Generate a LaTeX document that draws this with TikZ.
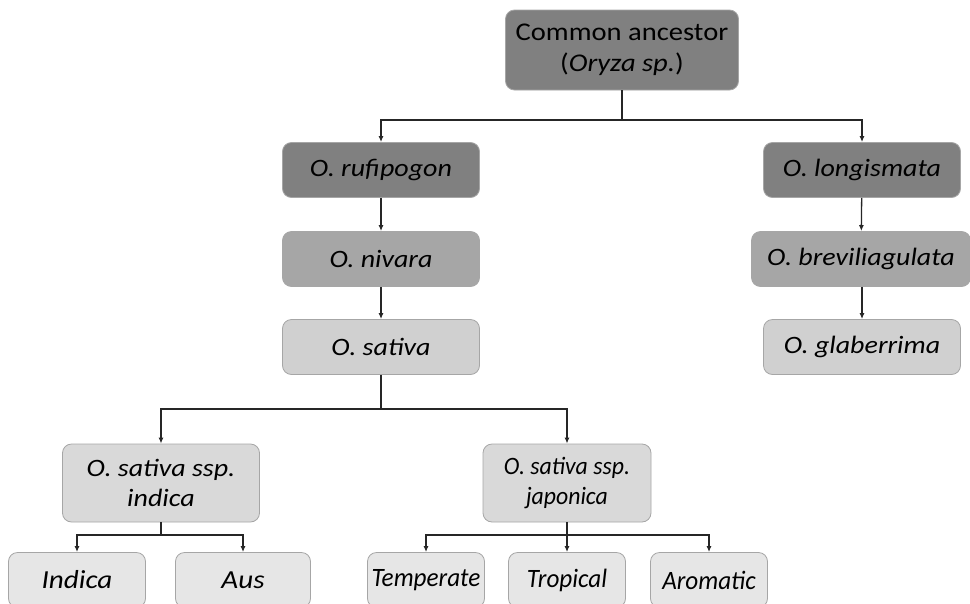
\documentclass[tikz,border=0pt]{standalone}
\usepackage{fontspec}
\setmainfont[FakeStretch=1.12]{Carlito}
\newfontfamily\narrowfont[FakeStretch=0.95]{Carlito}
\usetikzlibrary{arrows.meta}
\definecolor{darkgrey}{HTML}{808080}
\definecolor{midgrey}{HTML}{A6A6A6}
\definecolor{lightgrey}{HTML}{D0D0D0}
\definecolor{palegrey}{HTML}{D9D9D9}
\definecolor{faintgrey}{HTML}{E6E6E6}
\tikzset{
  box/.style={draw=black!35, line width=0.8pt, rounded corners=9pt,
    minimum height=55pt, inner sep=3pt, align=center,
    font=\fontsize{25}{30}\selectfont\itshape},
  link/.style={line width=1.3pt, draw=black!85},
  arr/.style={link, -{Latex[length=6pt,width=5pt]}},
}
\begin{document}
\begin{tikzpicture}[x=1pt,y=-1pt]
  \useasboundingbox (0,0) rectangle (970,603);
  \clip (0,0) rectangle (970,603);
  % ancestor and the two wild lines
  \node[box,fill=darkgrey,minimum width=233pt,minimum height=80pt,
    font=\fontsize{25.5}{31}\selectfont] (anc) at (622,50)
    {Common ancestor\\(\textit{Oryza sp.})};
  \node[box,fill=darkgrey,minimum width=197pt] (ruf) at (381,170) {O. rufipogon};
  \node[box,fill=darkgrey,minimum width=197pt] (lon) at (862,170) {O. longismata};
  \node[box,fill=midgrey,minimum width=197pt] (niv) at (381,259) {O. nivara};
  \node[box,fill=midgrey,minimum width=219pt] (bre) at (861,259) {O. breviliagulata};
  \node[box,fill=lightgrey,minimum width=197pt] (sat) at (381,347) {O. sativa};
  \node[box,fill=lightgrey,minimum width=197pt] (gla) at (862,347) {O. glaberrima};
  % subspecies
  \node[box,fill=palegrey,minimum width=197pt,minimum height=78pt] (ind) at (161,483)
    {O. sativa ssp.\\indica};
  \node[box,fill=palegrey,minimum width=168pt,minimum height=78pt,
    font=\fontsize{25}{30}\narrowfont\itshape] (jap) at (567,483)
    {O. sativa ssp.\\japonica};
  % groups
  \tikzset{every node/.append style={font=\fontsize{26.5}{30}\narrowfont\itshape}}
  \node[box,fill=faintgrey,minimum width=137pt,font=\fontsize{26}{30}\selectfont\itshape] (indi) at (77,580) {Indica};
  \node[box,fill=faintgrey,minimum width=135pt,font=\fontsize{26}{30}\selectfont\itshape] (aus) at (243,580) {Aus};
  \node[box,fill=faintgrey,minimum width=117pt,font=\fontsize{26.5}{30}\narrowfont\itshape] (tem) at (426,580) {Temperate};
  \node[box,fill=faintgrey,minimum width=117pt,font=\fontsize{26.5}{30}\narrowfont\itshape] (tro) at (567,580) {Tropical};
  \node[box,fill=faintgrey,minimum width=117pt,font=\fontsize{26.5}{30}\narrowfont\itshape] (aro) at (709,580) {Aromatic};

  \coordinate (j0) at (622,120);
  \coordinate (j1) at (381,409);
  \coordinate (j2) at (161,535);
  \coordinate (j3) at (567,535);

  \draw[link] (anc) -- (j0);
  \draw[arr] (j0) -| (ruf);
  \draw[arr] (j0) -| (lon);
  \draw[arr] (ruf) -- (niv);
  \draw[arr] (niv) -- (sat);
  \draw[arr] (lon) -- (bre);
  \draw[arr] (bre.south -| lon) -- (gla);
  \draw[link] (sat) -- (j1);
  \draw[arr] (j1) -| (ind);
  \draw[arr] (j1) -| (jap);
  \draw[link] (ind) -- (j2);
  \draw[arr] (j2) -| (indi);
  \draw[arr] (j2) -| (aus);
  \draw[link] (jap) -- (j3);
  \draw[arr] (j3) -| (tem);
  \draw[arr] (j3) -- (tro);
  \draw[arr] (j3) -| (aro);
\end{tikzpicture}
\end{document}
